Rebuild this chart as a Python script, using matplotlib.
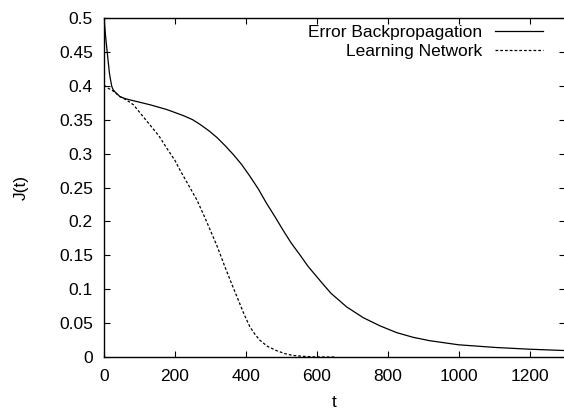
import matplotlib
matplotlib.use('Agg')
import matplotlib.pyplot as plt

# Error backpropagation curve
bp_t = [0, 3, 6, 9, 12, 15, 18, 22, 26, 31, 45, 60, 83, 130, 177, 224, 250,
        271, 295, 318, 341, 364, 388, 411, 435, 458, 482, 505, 528, 552, 575,
        599, 620, 640, 684, 731, 778, 825, 872, 919, 1000, 1106, 1200, 1300]
bp_j = [0.5, 0.482, 0.465, 0.45, 0.435, 0.42, 0.41, 0.399, 0.394, 0.391,
        0.384, 0.381, 0.378, 0.372, 0.365, 0.356, 0.350, 0.343, 0.334, 0.324,
        0.312, 0.299, 0.284, 0.267, 0.248, 0.227, 0.207, 0.187, 0.168, 0.151,
        0.134, 0.119, 0.106, 0.094, 0.074, 0.058, 0.046, 0.036, 0.029, 0.024,
        0.018, 0.014, 0.0115, 0.0095]

# Learning network curve
ln_t = [0, 10, 20, 27, 45, 64, 83, 105, 130, 155, 177, 200, 214, 240, 262,
        285, 303, 320, 341, 360, 378, 395, 411, 425, 439, 460, 486, 510, 530,
        560, 600, 650]
ln_j = [0.401, 0.397, 0.394, 0.392, 0.384, 0.379, 0.372, 0.358, 0.342, 0.326,
        0.308, 0.290, 0.276, 0.252, 0.2316, 0.205, 0.183, 0.162, 0.133, 0.108,
        0.085, 0.063, 0.045, 0.034, 0.025, 0.016, 0.0095, 0.005, 0.0025,
        0.001, 0.0, 0.0]

xticks = [0, 200, 400, 600, 800, 1000, 1200]
yticks = [0, 0.05, 0.1, 0.15, 0.2, 0.25, 0.3, 0.35, 0.4, 0.45, 0.5]
ylabels = ['0', '0.05', '0.1', '0.15', '0.2', '0.25', '0.3', '0.35', '0.4', '0.45', '0.5']

plt.rcParams['font.family'] = ['Liberation Sans', 'DejaVu Sans']
plt.rcParams['font.size'] = 12.5

fig = plt.figure(figsize=(5.64, 4.09), dpi=100)
ax = fig.add_axes([104 / 564, 52 / 409, 461 / 564, 339 / 409])

ax.plot(bp_t, bp_j, color='black', lw=0.9, label='Error Backpropagation')
ax.plot(ln_t, ln_j, color='black', lw=0.9, dashes=(2.2, 1.6), label='Learning Network')

ax.set_xlim(0, 1300)
ax.set_ylim(0, 0.5)
ax.set_xticks(xticks)
ax.set_yticks(yticks)
ax.set_yticklabels(ylabels)
ax.tick_params(direction='in', length=4.5, width=0.8, top=True, right=True)
ax.tick_params(axis='x', pad=8.5)
ax.tick_params(axis='y', pad=8)
for s in ax.spines.values():
    s.set_linewidth(1.0)

ax.set_xlabel('t', labelpad=8)
ax.set_ylabel('J(t)', labelpad=22)

ax.legend(loc='upper right', frameon=False, markerfirst=False, handlelength=2.76,
          handletextpad=0.75, labelspacing=0.25, borderaxespad=0, borderpad=0,
          bbox_to_anchor=(0.952, 0.98))

fig.savefig('out.png', dpi=100)
